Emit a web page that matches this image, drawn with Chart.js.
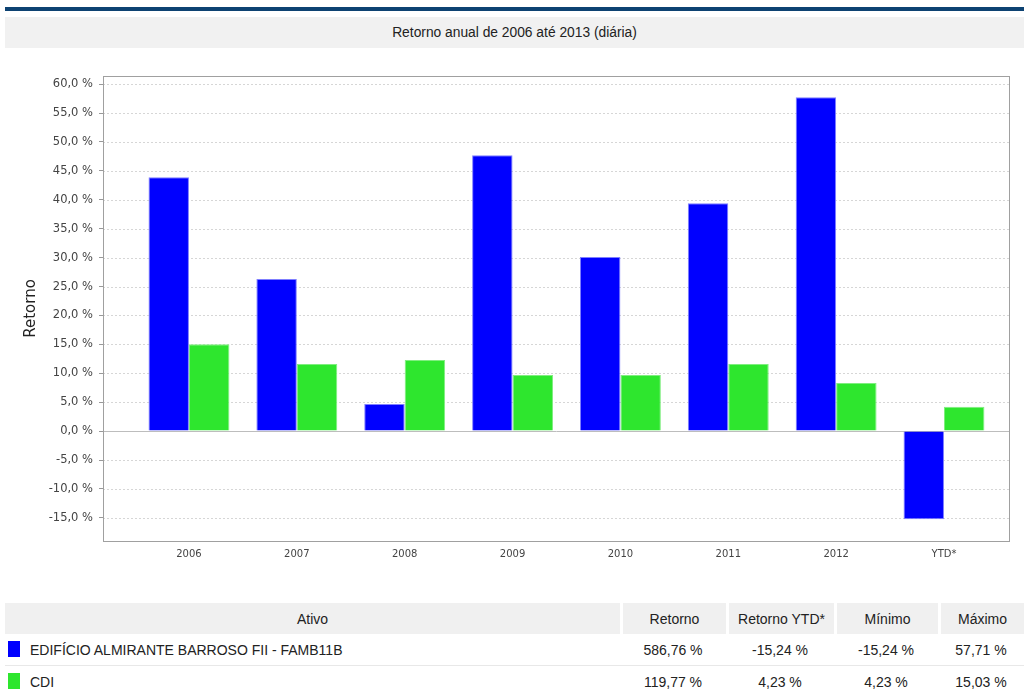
<!DOCTYPE html>
<html lang="pt-BR">
<head>
<meta charset="UTF-8">
<title>Retorno anual</title>
<script src="https://cdn.jsdelivr.net/npm/chart.js"></script>
<style>
  body { margin: 0; width: 1024px; height: 691px; overflow: hidden; background: #fff; font-family: "Liberation Sans", Arial, sans-serif; color: #222; position: relative; }
  .faixa { position: absolute; left: 5px; right: 0; top: 7px; height: 4px; background: #0d4272; }
  .titulo { position: absolute; left: 5px; right: 0; top: 17px; height: 31px; background: #f1f1f1; text-align: center; line-height: 31px; font-size: 13.8px; color: #222; }
  .grafico { position: absolute; left: 0; top: 56px; width: 1024px; height: 524px; }
  table { position: absolute; left: 5px; top: 603px; width: 1019px; border-collapse: separate; border-spacing: 0; font-size: 14px; }
  th { background: #f0f0f0; font-weight: normal; height: 31px; padding: 0; border-left: 3px solid #fff; text-align: center; }
  th:first-child { border-left: 0; }
  td { height: 31px; padding: 0; text-align: center; border-bottom: 1px solid #e8e8e8; }
  td.ativo { text-align: left; padding-left: 25px; position: relative; }
  td.ativo span { position: absolute; left: 3px; top: 7px; width: 12px; height: 16px; }
  tr:last-child td { border-bottom: 0; }
</style>
</head>
<body>
<div class="faixa"></div>
<div class="titulo">Retorno anual de 2006 até 2013 (diária)</div>
<div class="grafico"><canvas id="retorno" width="1024" height="524"></canvas></div>

<table>
  <thead>
    <tr><th style="width:615px">Ativo</th><th style="width:103px">Retorno</th><th style="width:105px">Retorno YTD*</th><th style="width:101px">Mínimo</th><th>Máximo</th></tr>
  </thead>
  <tbody id="tabela"></tbody>
</table>

<script>
// categorias e séries
const anos = ['2006', '2007', '2008', '2009', '2010', '2011', '2012', 'YTD*'];
const fundo = [43.9, 26.3, 4.7, 47.7, 30.1, 39.4, 57.71, -15.24];
const cdi = [15.03, 11.6, 12.3, 9.7, 9.7, 11.6, 8.3, 4.23];
const ticksY = [-15, -10, -5, 0, 5, 10, 15, 20, 25, 30, 35, 40, 45, 50, 55, 60];

// resumo da tabela
const nomes = ['EDIFÍCIO ALMIRANTE BARROSO FII - FAMB11B', 'CDI'];
const cores = ['#0000ff', '#2ee62e'];
const retornoTotal = ['586,76 %', '119,77 %'];
const retornoYtd = ['-15,24 %', '4,23 %'];
const minimos = ['-15,24 %', '4,23 %'];
const maximos = ['57,71 %', '15,03 %'];

const tbody = document.getElementById('tabela');
nomes.forEach((n, i) => {
  const tr = document.createElement('tr');
  tr.innerHTML = '<td class="ativo"><span style="background:' + cores[i] + '"></span>' + n + '</td>' +
    '<td>' + retornoTotal[i] + '</td><td>' + retornoYtd[i] + '</td><td>' + minimos[i] + '</td><td>' + maximos[i] + '</td>';
  tbody.appendChild(tr);
});

const fmt = v => v.toFixed(1).replace('.', ',') + ' %';

// linhas pontilhadas de grade + moldura
const moldura = {
  id: 'moldura',
  beforeDatasetsDraw(chart) {
    const a = chart.chartArea, ctx = chart.ctx, y = chart.scales.y;
    ctx.save();
    ctx.lineWidth = 1;
    ctx.setLineDash([2, 2]);
    ticksY.forEach(v => {
      const py = Math.round(y.getPixelForValue(v)) + 0.5;
      ctx.strokeStyle = v === 0 ? '#bdbdbd' : '#d6d6d6';
      if (v === 0) ctx.setLineDash([]);
      ctx.beginPath();
      ctx.moveTo(a.left, py);
      ctx.lineTo(a.right, py);
      ctx.stroke();
      ctx.setLineDash([2, 2]);
    });
    ctx.restore();
  },
  afterDraw(chart) {
    const a = chart.chartArea, ctx = chart.ctx;
    ctx.save();
    ctx.strokeStyle = '#a0a0a0';
    ctx.lineWidth = 1;
    ctx.strokeRect(Math.round(a.left) + 0.5, Math.round(a.top) + 0.5, Math.round(a.right - a.left) - 1, Math.round(a.bottom - a.top));
    ctx.restore();
  }
};

new Chart(document.getElementById('retorno'), {
  type: 'bar',
  data: {
    datasets: [
      { label: nomes[0], data: fundo.map((v, i) => ({ x: i, y: v })), backgroundColor: cores[0], borderColor: '#7f7fff', borderWidth: 1 },
      { label: nomes[1], data: cdi.map((v, i) => ({ x: i, y: v })), backgroundColor: cores[1], borderColor: '#7fee7f', borderWidth: 1 }
    ]
  },
  options: {
    responsive: false,
    animation: false,
    events: [],
    layout: { padding: { top: 20, right: 14, left: 0, bottom: 0 } },
    datasets: { bar: { categoryPercentage: 0.75, barPercentage: 1.0 } },
    plugins: { legend: { display: false }, tooltip: { enabled: false } },
    scales: {
      x: {
        type: 'linear',
        offset: false,
        min: -0.797,
        max: 7.612,
        afterBuildTicks: s => { s.ticks = anos.map((a, i) => ({ value: i })); },
        afterFit: s => { s.height = 39; },
        ticks: { callback: v => anos[v], padding: 7, color: '#444', font: { family: 'DejaVu Sans', size: 10 }, maxRotation: 0 },
        grid: { display: false, drawTicks: false, offset: false },
        border: { display: false }
      },
      y: {
        min: -19,
        max: 61.4,
        afterBuildTicks: s => { s.ticks = ticksY.map(v => ({ value: v })); },
        afterFit: s => { s.width = 103; },
        ticks: { callback: v => fmt(v), padding: 6, color: '#444', font: { family: 'DejaVu Sans', size: 11.5 } },
        grid: { drawOnChartArea: false, tickLength: 4, tickColor: '#999' },
        border: { display: false },
        title: { display: true, text: 'Retorno', color: '#222', font: { family: 'DejaVu Sans', size: 15 }, padding: { top: 22, bottom: 0 } }
      }
    }
  },
  plugins: [moldura]
});
</script>
</body>
</html>
